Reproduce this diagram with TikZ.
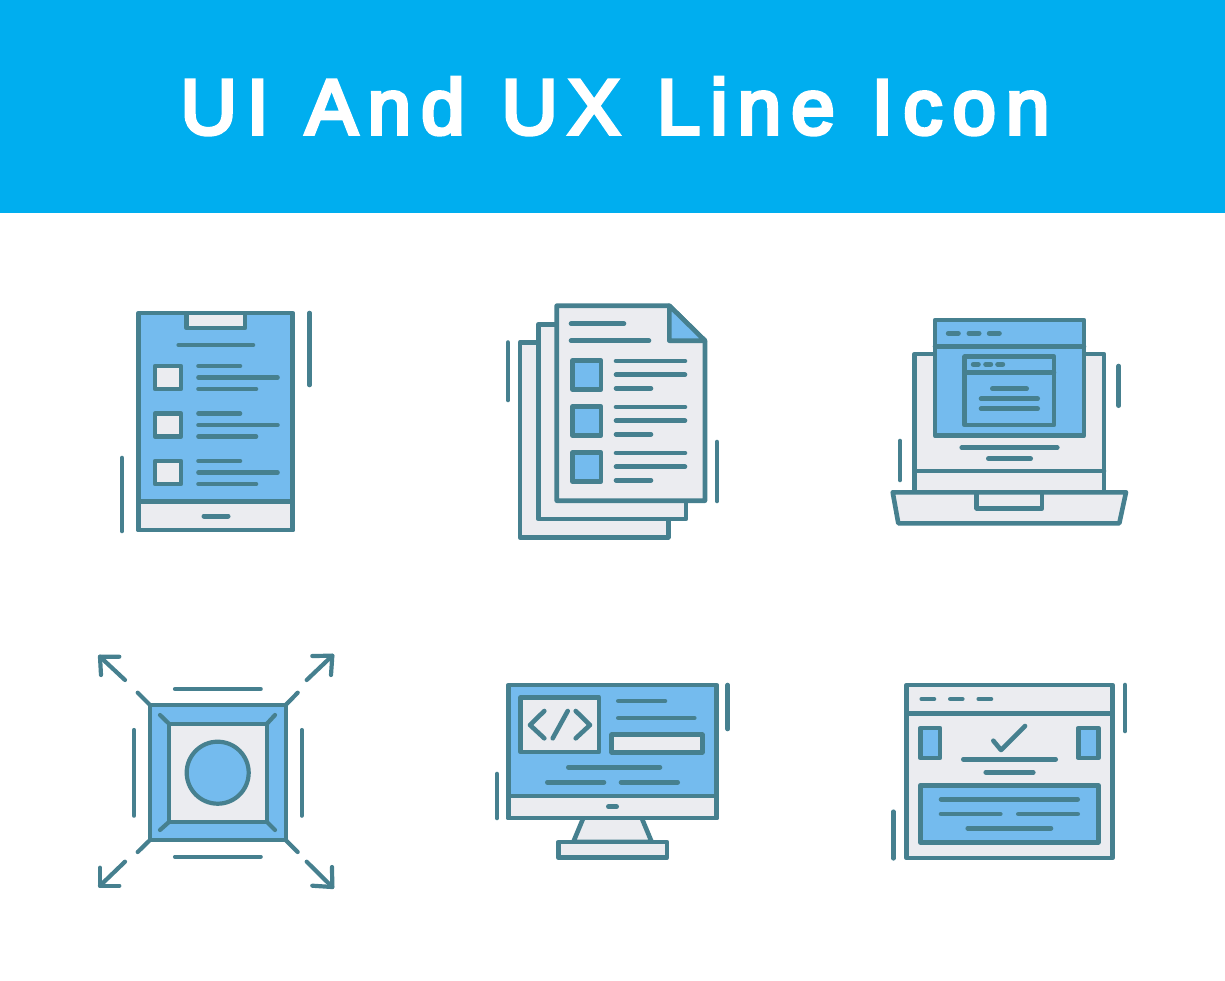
\documentclass[tikz,border=0pt]{standalone}
\usepackage{fontspec}
\newfontfamily\ttl[LetterSpace=13,FakeBold=5,WordSpace=1.16]{Liberation Sans}
\definecolor{banner}{HTML}{00AEEF}
\definecolor{stk}{HTML}{46808F}
\definecolor{bl}{HTML}{74BBEE}
\definecolor{gy}{HTML}{EBECF0}
\tikzset{
  ln/.style={draw=stk,line width=4.6pt,line cap=round,line join=round},
  thin ln/.style={draw=stk,line width=4.2pt,line cap=round,line join=round},
  fb/.style={fill=bl,ln},
  fg/.style={fill=gy,ln},
  fbt/.style={fill=bl,thin ln},
  fgt/.style={fill=gy,thin ln},
  title/.style={text=white,font=\fontsize{78}{78}\ttl,inner sep=0pt}
}
\begin{document}
\begin{tikzpicture}[x=1pt,y=-1pt]
\useasboundingbox (0,0) rectangle (1225,980);
\fill[white] (0,0) rectangle (1225,980);
\fill[banner] (0,0) rectangle (1225,213);
\node[title,anchor=base] (heading) at (615,134) {UI And UX Line Icon};

% --- icon 1: tablet checklist
\draw[fb] (138.7,313) rectangle (292.7,530);
\draw[fg] (138.7,501.7) rectangle (292.7,530);
\draw[fg] (186.7,313) rectangle (245,328);
\draw[ln] (178.7,345) -- (253,345);
\foreach \d in {0,47.5,95}{
  \draw[fg] (155,366+\d) rectangle (181,389+\d);
  \draw[ln] (198.5,366+\d) -- (240,366+\d);
  \draw[ln] (198.5,377.5+\d) -- (277.5,377.5+\d);
  \draw[ln] (198.5,389+\d) -- (256,389+\d);
}
\draw[ln,line width=5pt] (204,516) -- (228,516);
\draw[ln] (309.5,313) -- (309.5,385);
\draw[ln] (122,458) -- (122,531);

% --- icon 2: documents
\draw[fg] (520,342.3) rectangle (668.3,537.3);
\draw[fg] (538.3,324.3) rectangle (686,519);
\draw[fg] (556.7,305.7) -- (669.3,305.7) -- (705,340.7) -- (705,500.7) -- (556.7,500.7) -- cycle;
\draw[fb] (669.3,305.7) -- (705,340.7) -- (669.3,340.7) -- cycle;
\draw[ln] (571,323.7) -- (624,323.7);
\draw[ln] (571,340.7) -- (649,340.7);
\foreach \d in {0,46,92}{
  \draw[fb] (572.3,360.7+\d) rectangle (601,389.3+\d);
  \draw[ln] (616,361+\d) -- (685,361+\d);
  \draw[ln] (616,374.7+\d) -- (685,374.7+\d);
  \draw[ln] (616,388.3+\d) -- (651,388.3+\d);
}
\draw[ln] (508,342.5) -- (508,400);
\draw[ln] (717,442) -- (717,501);

% --- icon 3: laptop
\draw[fg] (914.7,354) rectangle (1104,492.3);
\draw[ln] (914.7,471) -- (1104,471);
\draw[fg] (892.7,492.3) -- (1126,492.3) -- (1119.3,523.3) -- (898.3,523.3) -- cycle;
\draw[ln] (976.7,492.3) -- (976.7,508.3) -- (1042,508.3) -- (1042,492.3);
\draw[fb] (935,320) rectangle (1084,435.7);
\draw[ln] (935,346.3) -- (1084,346.3);
\foreach \a/\b in {948.3/958.3,969/979,989.3/999.3}{\draw[ln,line width=5pt] (\a,333.3) -- (\b,333.3);}
\draw[fb] (964.7,356.7) rectangle (1054,425);
\draw[ln] (964.7,372.3) -- (1054,372.3);
\foreach \a/\b in {973.3/978.3,985.7/990.7,997.7/1002.7}{\draw[ln,line width=5pt] (\a,364.3) -- (\b,364.3);}
\draw[ln] (992.3,388.7) -- (1026.7,388.7);
\draw[ln] (981,398.7) -- (1037.7,398.7);
\draw[ln] (981,408.7) -- (1037.7,408.7);
\draw[ln] (961.7,447.7) -- (1057.3,447.7);
\draw[ln] (988.3,458.7) -- (1030.7,458.7);
\draw[ln] (1118.7,366) -- (1118.7,405.7);
\draw[ln] (900,441) -- (900,480);

% --- icon 4: expand
\draw[fbt] (150,705) rectangle (285.7,840);
\draw[fgt] (169.3,724) rectangle (266.7,821.7);
\draw[fbt] (217.7,772.7) circle (31);
\draw[thin ln] (169.3,724) -- (160,715);
\draw[thin ln] (266.7,724) -- (275,715);
\draw[thin ln] (169.3,821.7) -- (160,830);
\draw[thin ln] (266.7,821.7) -- (275,830);
\draw[thin ln] (150,705) -- (137.7,692.7);
\draw[thin ln] (285.7,705) -- (297.7,692.7);
\draw[thin ln] (150,840) -- (137.7,852);
\draw[thin ln] (285.7,840) -- (297.7,852);
\draw[thin ln] (125,680) -- (100,656.7);
\draw[thin ln] (119.3,656.7) -- (100,656.7) -- (101,675);
\draw[thin ln] (306.7,680) -- (332.3,655.7);
\draw[thin ln] (312.3,656) -- (332.3,655.7) -- (331,675);
\draw[thin ln] (125,861.7) -- (100,885.7);
\draw[thin ln] (119.3,885.7) -- (100,885.7) -- (100,867.7);
\draw[thin ln] (306.7,861.7) -- (332.3,887);
\draw[thin ln] (312.3,885.7) -- (332.3,887) -- (332,867);
\draw[thin ln] (175,689) -- (260.7,689);
\draw[thin ln] (175,856.7) -- (260.7,856.7);
\draw[thin ln] (134,730) -- (134,815.7);
\draw[thin ln] (301.7,730) -- (301.7,815.7);

% --- icon 5: monitor
\draw[fg] (583.3,818) -- (573.3,842) -- (651.7,842) -- (641.7,818);
\draw[fg] (558.3,842) rectangle (667,857.7);
\draw[fb] (508.3,685) rectangle (716.7,818);
\draw[fg] (508.3,796) rectangle (716.7,818);
\draw[fg] (520.7,697.3) rectangle (599,752);
\draw[ln] (544.3,711) -- (530,725) -- (544.3,738.3);
\draw[ln] (567.7,711) -- (552.7,738.3);
\draw[ln] (575.7,711) -- (590,725) -- (575.7,738.3);
\draw[ln] (618.3,701) -- (665,701);
\draw[ln] (618.3,718) -- (694.3,718);
\draw[fg] (611.7,734.7) rectangle (702.3,752.3);
\draw[ln] (568.3,767.3) -- (660,767.3);
\draw[ln] (547.3,782.3) -- (604,782.3);
\draw[ln] (621,782.3) -- (677.7,782.3);
\draw[ln,line width=5pt] (608.5,806.7) -- (616.5,806.7);
\draw[ln] (727.7,685) -- (727.7,729);
\draw[ln] (497,774) -- (497,818);

% --- icon 6: browser
\draw[fg] (906.7,685) rectangle (1112.3,858);
\draw[ln] (906.7,713.7) -- (1112.3,713.7);
\foreach \a/\b in {921.7/934,950.3/962.3,978.7/991}{\draw[ln] (\a,699) -- (\b,699);}
\draw[fb] (920.3,728) rectangle (940,758);
\draw[fb] (1078.3,728) rectangle (1098.3,758);
\draw[ln] (993.3,740.7) -- (1001,750) -- (1025,726);
\draw[ln] (963.3,759.3) -- (1055.7,759.3);
\draw[ln] (985.7,772.3) -- (1033.3,772.3);
\draw[fb] (920.3,785.3) rectangle (1098.3,842.3);
\draw[ln] (941,799.3) -- (1077.7,799.3);
\draw[ln] (941,814) -- (1000.3,814);
\draw[ln] (1018.3,814) -- (1077.7,814);
\draw[ln] (967.7,828.3) -- (1051,828.3);
\draw[ln] (1125,685) -- (1125,731);
\draw[ln] (893.3,811.7) -- (893.3,858.3);
\end{tikzpicture}
\end{document}
